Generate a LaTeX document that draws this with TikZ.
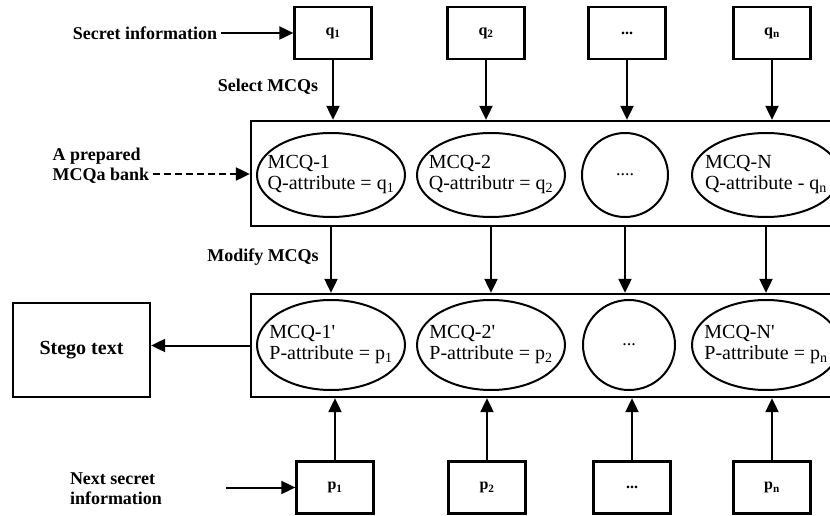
\documentclass[tikz,border=0pt]{standalone}
\usepackage{fontspec}
\setmainfont{Liberation Serif}
\usetikzlibrary{arrows.meta,positioning,shapes.geometric}
\newcommand{\dotbox}{...}
\newcommand{\mcqtext}[2]{\makebox[0pt]{\begin{tabular}{@{}l@{}}#1\\#2\end{tabular}}}

\begin{document}
\begin{tikzpicture}[x=1pt,y=-1pt,
    box/.style={draw,line width=2.3pt,minimum width=77pt,minimum height=52pt,font=\fontsize{16}{18}\selectfont\bfseries},
    bank/.style={draw,line width=2.3pt,minimum width=594pt},
    mcq/.style={draw,ellipse,line width=2pt,inner sep=0pt,minimum width=148pt,minimum height=84pt,font=\fontsize{20}{21}\selectfont},
    dotell/.style={draw,ellipse,line width=2pt,inner sep=0pt,minimum width=86pt,minimum height=84pt,font=\fontsize{18}{20}\selectfont},
    lbl/.style={font=\fontsize{18}{20}\selectfont\bfseries},
    arr/.style={-{Triangle[length=14pt,width=13pt]},line width=2pt}]
    \useasboundingbox (0,0) rectangle (830,516);
    \node[bank,minimum height=105pt] (bank) at (548,173.5) {};
    \node[bank,minimum height=103pt] (modbank) at (548,345.5) {};
    \foreach \i/\x/\t in {1/333/q\textsubscript{1},2/486/q\textsubscript{2},3/627/\dotbox,4/772/q\textsubscript{n}}
    {
    \node[box] (q\i) at (\x,33) {\t};
    \draw[arr] (q\i) -- (q\i |- bank.north);
    }
    \foreach \i/\x/\a/\b in {1/331/MCQ-1/Q-attribute = q\textsubscript{1},2/491/MCQ-2/Q-attributr = q\textsubscript{2},4/766/MCQ-N/Q-attribute - q\textsubscript{n}}
    {
    \node[mcq] (e\i) at (\x,175) {\mcqtext{\a}{\b}};
    \draw[arr] (bank.south -| e\i) -- (modbank.north -| e\i);
    }
    \node[dotell] (e3) at (625,175) {....};
    \draw[arr] (bank.south -| e3) -- (modbank.north -| e3);
    \foreach \i/\x/\a/\b in {1/331/MCQ-1\textquotesingle/P-attribute = p\textsubscript{1},2/491/MCQ-2\textquotesingle/P-attribute = p\textsubscript{2},4/766/MCQ-N\textquotesingle/P-attribute = p\textsubscript{n}}
    {
    \node[mcq,minimum height=90pt] (f\i) at (\x,345) {\mcqtext{\a}{\b}};
    }
    \node[dotell,minimum width=92pt,minimum height=90pt] (f3) at (629,345) {\dotbox};
    \foreach \i/\x/\t in {1/335/p\textsubscript{1},2/487/p\textsubscript{2},3/632/\dotbox,4/772/p\textsubscript{n}}
    {
    \node[box] (p\i) at (\x,487.5) {\t};
    \draw[arr] (p\i) -- (p\i |- modbank.south);
    }
    \node[draw,line width=2.3pt,minimum width=137pt,minimum height=94pt,font=\fontsize{20}{22}\selectfont\bfseries] (stego) at (81.5,350) {Stego text};
    \draw[arr] (modbank.west) -- (modbank.west -| stego.east);
    \node[lbl] (secret) at (145,33) {Secret information};
    \draw[arr] (secret) -- (q1);
    \node[lbl] at (268,87) {Select MCQs};
    \node[lbl,align=left] (prep) at (101,166) {A prepared\\MCQa bank};
    \draw[arr,dashed,dash pattern=on 7pt off 4pt] ([yshift=-8pt]prep.east) -- ([yshift=-8pt]prep.east -| bank.west);
    \node[lbl] at (263,257) {Modify MCQs};
    \node[lbl,align=left] (next) at (116,489) {Next secret\\information};
    \coordinate (n0) at (226,487.5);
    \draw[arr] (n0) -- (p1);
\end{tikzpicture}
\end{document}
